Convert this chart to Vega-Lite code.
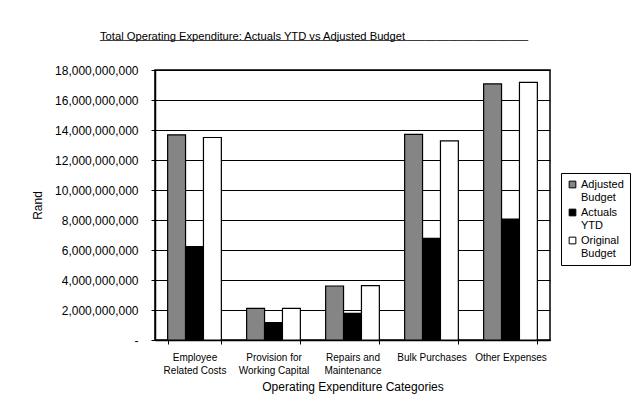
{
  "$schema": "https://vega.github.io/schema/vega-lite/v6.json",
  "autosize": "none",
  "width": 395,
  "height": 270,
  "padding": {"left": 155, "top": 70, "right": 89, "bottom": 69},
  "background": "white",
  "title": {
    "text": "Total Operating Expenditure: Actuals YTD vs Adjusted Budget",
    "subtitle": "______________________________________________________________________",
    "anchor": "start",
    "frame": "group",
    "dx": -55,
    "font": "Liberation Sans",
    "fontSize": 11.2,
    "fontWeight": "normal",
    "color": "black",
    "subtitleFont": "Liberation Sans",
    "subtitleFontSize": 11,
    "subtitleColor": "black",
    "subtitlePadding": -12,
    "offset": 21
  },
  "data": {
    "values": [
      {"category": "Employee Related Costs", "series": "Adjusted Budget", "value": 13680000000},
      {"category": "Employee Related Costs", "series": "Actuals YTD", "value": 6220000000},
      {"category": "Employee Related Costs", "series": "Original Budget", "value": 13500000000},
      {"category": "Provision for Working Capital", "series": "Adjusted Budget", "value": 2110000000},
      {"category": "Provision for Working Capital", "series": "Actuals YTD", "value": 1160000000},
      {"category": "Provision for Working Capital", "series": "Original Budget", "value": 2110000000},
      {"category": "Repairs and Maintenance", "series": "Adjusted Budget", "value": 3600000000},
      {"category": "Repairs and Maintenance", "series": "Actuals YTD", "value": 1780000000},
      {"category": "Repairs and Maintenance", "series": "Original Budget", "value": 3620000000},
      {"category": "Bulk Purchases", "series": "Adjusted Budget", "value": 13710000000},
      {"category": "Bulk Purchases", "series": "Actuals YTD", "value": 6780000000},
      {"category": "Bulk Purchases", "series": "Original Budget", "value": 13270000000},
      {"category": "Other Expenses", "series": "Adjusted Budget", "value": 17070000000},
      {"category": "Other Expenses", "series": "Actuals YTD", "value": 8060000000},
      {"category": "Other Expenses", "series": "Original Budget", "value": 17180000000}
    ]
  },
  "mark": {"type": "bar", "stroke": "black", "strokeWidth": 1.2},
  "encoding": {
    "x": {
      "field": "category",
      "type": "nominal",
      "sort": null,
      "scale": {"paddingInner": 0.32, "paddingOuter": 0.16},
      "axis": {
        "title": "Operating Expenditure Categories",
        "titleFont": "Liberation Sans",
        "titleFontSize": 12,
        "titleFontWeight": "normal",
        "titleColor": "black",
        "titlePadding": 6,
        "labelAngle": 0,
        "labelFont": "Liberation Sans",
        "labelFontSize": 10,
        "labelColor": "black",
        "labelPadding": 8,
        "labelLineHeight": 13,
        "labelExpr": "datum.value == 'Employee Related Costs' ? ['Employee', 'Related Costs'] : datum.value == 'Provision for Working Capital' ? ['Provision for', 'Working Capital'] : datum.value == 'Repairs and Maintenance' ? ['Repairs and', 'Maintenance'] : datum.value",
        "tickBand": "extent",
        "tickColor": "black",
        "tickSize": 4,
        "domainColor": "black",
        "domainWidth": 1.5,
        "grid": false
      }
    },
    "xOffset": {
      "field": "series",
      "type": "nominal",
      "sort": ["Adjusted Budget", "Actuals YTD", "Original Budget"],
      "scale": {"paddingInner": 0, "paddingOuter": 0}
    },
    "y": {
      "field": "value",
      "type": "quantitative",
      "scale": {"domain": [0, 18000000000], "nice": false},
      "axis": {
        "title": "Rand",
        "titleFont": "Liberation Sans",
        "titleFontSize": 12,
        "titleFontWeight": "normal",
        "titleColor": "black",
        "titlePadding": 10,
        "values": [0, 2000000000, 4000000000, 6000000000, 8000000000, 10000000000, 12000000000, 14000000000, 16000000000, 18000000000],
        "labelExpr": "datum.value == 0 ? '-  ' : format(datum.value, ',')",
        "labelFont": "Liberation Sans",
        "labelFontSize": 12,
        "labelColor": "black",
        "labelPadding": 13,
        "tickColor": "black",
        "tickSize": 4,
        "domainColor": "black",
        "domainWidth": 1.5,
        "grid": true,
        "gridColor": "black",
        "gridWidth": 1
      }
    },
    "fill": {
      "field": "series",
      "type": "nominal",
      "scale": {
        "domain": ["Adjusted Budget", "Actuals YTD", "Original Budget"],
        "range": ["#858585", "#000000", "#ffffff"]
      },
      "legend": {
        "title": null,
        "orient": "none",
        "legendX": 406,
        "legendY": 103,
        "strokeColor": "black",
        "fillColor": "white",
        "padding": 6,
        "symbolType": "square",
        "symbolSize": 45,
        "symbolStrokeColor": "black",
        "symbolStrokeWidth": 1,
        "labelFont": "Liberation Sans",
        "labelFontSize": 11,
        "labelColor": "black",
        "labelOffset": 3,
        "labelLimit": 100,
        "rowPadding": 3,
        "labelExpr": "datum.value == 'Adjusted Budget' ? ['Adjusted', '  Budget'] : datum.value == 'Actuals YTD' ? ['Actuals', 'YTD'] : ['Original', '  Budget']"
      }
    }
  },
  "config": {
    "view": {"stroke": "black", "strokeWidth": 1.5},
    "axis": {"labelFontWeight": "normal"}
  }
}
